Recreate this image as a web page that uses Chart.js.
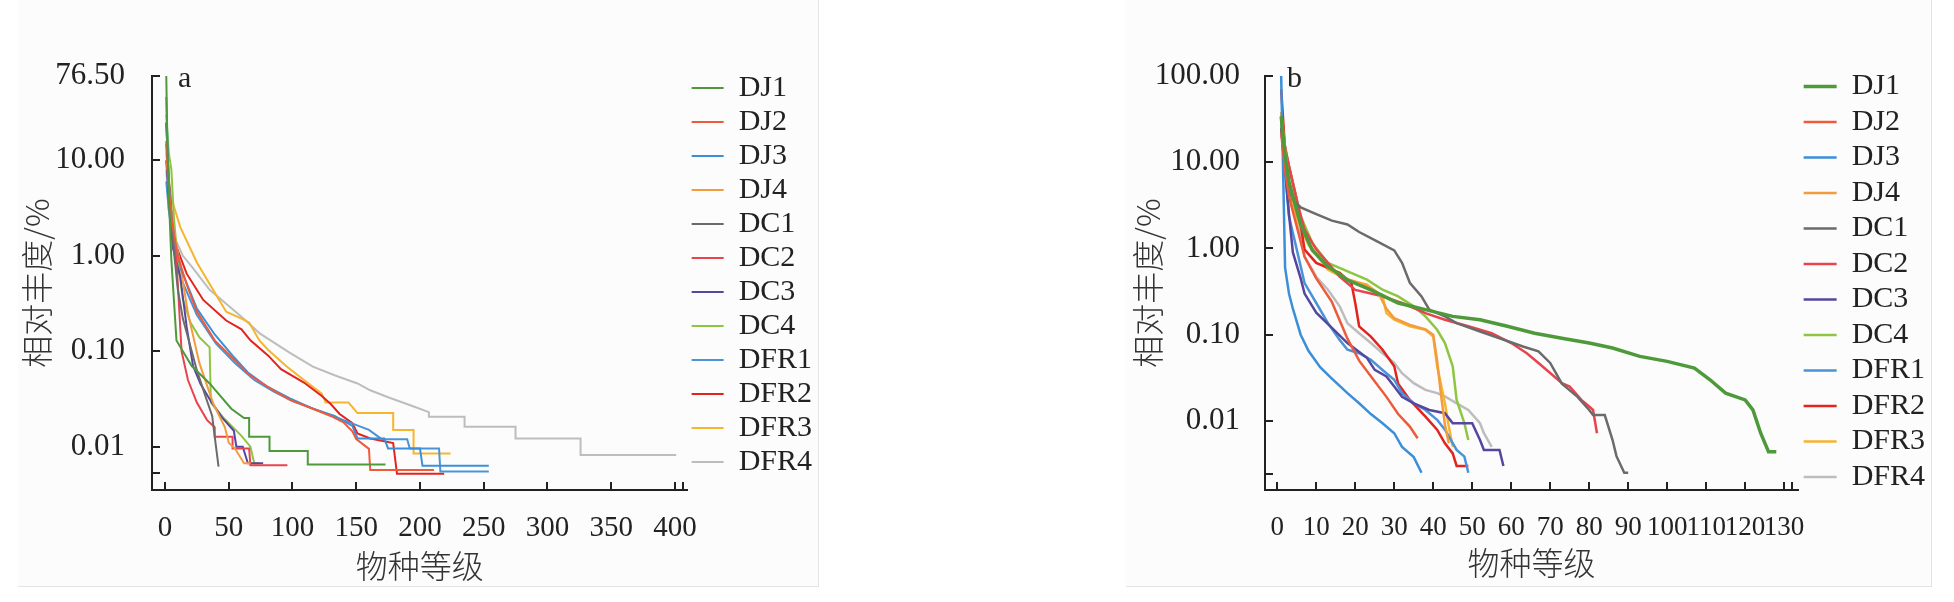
<!DOCTYPE html>
<html lang="zh">
<head>
<meta charset="utf-8">
<title>相对丰度 - 物种等级</title>
<script src="https://cdn.jsdelivr.net/npm/chart.js@4.4.1/dist/chart.umd.min.js"></script>
<style>
  html, body { margin: 0; padding: 0; background: #ffffff; }
  #page { position: relative; width: 1954px; height: 602px; overflow: hidden; }
  .frame { position: absolute; top: 0; height: 586px; background: #fcfcfc; border-right: 1px solid #e4e4e4; border-bottom: 1px solid #e4e4e4; }
  #frameA { left: 18px; width: 800px; }
  #frameB { left: 1126px; width: 805px; }
  .box { position: absolute; top: 0; }
  #boxA { left: 0; width: 822px; height: 602px; }
  #boxB { left: 1100px; width: 835px; height: 602px; }
</style>
</head>
<body>
<div id="page">
  <div class="frame" id="frameA"></div>
  <div class="frame" id="frameB"></div>
  <div class="box" id="boxA"><canvas id="chartA" width="822" height="602"></canvas></div>
  <div class="box" id="boxB"><canvas id="chartB" width="835" height="602"></canvas></div>
</div>
<script>
// sample plots and their colours
const seriesNames = ['DJ1', 'DJ2', 'DJ3', 'DJ4', 'DC1', 'DC2', 'DC3', 'DC4', 'DFR1', 'DFR2', 'DFR3', 'DFR4'];
const seriesColors = ['#4e9a3b', '#ee5b3b', '#3b8fd9', '#f39c3f', '#6b6b6b', '#e8434f', '#55479f', '#8ec641', '#4a93d6', '#e2231e', '#f6b52f', '#bdbdbd'];

// panel a : [species rank, relative abundance %]
const a_DJ1 = [[1,76.5],[2,12],[3,4.2],[5,0.9],[9,0.13],[14,0.1],[21,0.07],[35,0.046],[52,0.025],[62,0.02],[66,0.02],[66,0.0127],[82,0.0127],[82,0.009],[112,0.009],[112,0.0065],[173,0.0065]];
const a_DJ2 = [[1,16],[3,5],[6,2],[10,1],[17,0.5],[25,0.26],[39,0.13],[53,0.085],[65,0.058],[81,0.042],[98,0.031],[116,0.025],[130,0.021],[140,0.018],[147,0.0145],[150,0.012],[160,0.0095],[161,0.0057],[211,0.0057]];
const a_DJ3 = [[1,46],[2,12],[4,3.5],[8,1.3],[13,0.7],[25,0.28],[39,0.15],[53,0.09],[65,0.06],[81,0.042],[98,0.032],[116,0.025],[133,0.021],[147,0.0165],[151,0.0122],[172,0.0122],[175,0.0096],[200,0.0096],[202,0.0063],[254,0.0063]];
const a_DJ4 = [[1,12],[4,3.5],[8,1.5],[12,0.8],[18,0.25],[27,0.075],[38,0.028],[47,0.016],[50,0.011],[55,0.0095],[62,0.0067],[67,0.0067]];
const a_DC1 = [[1,25],[3,6],[6,1.5],[10,0.45],[14,0.22],[18,0.14],[25,0.063],[32,0.033],[37,0.021],[40,0.01],[42,0.0062]];
const a_DC2 = [[1,15],[3,5],[6,2],[9,0.9],[11,0.3],[13,0.1],[18,0.05],[25,0.029],[33,0.019],[39,0.016],[39,0.0127],[53,0.0127],[53,0.0096],[66,0.0096],[67,0.0064],[96,0.0064]];
const a_DC3 = [[1,10],[3,4],[6,1.24],[12,0.6],[17,0.18],[22,0.07],[28,0.045],[36,0.03],[45,0.02],[54,0.0147],[56,0.01],[61,0.01],[65,0.0067],[77,0.0067]];
const a_DC4 = [[1,30],[3,12],[5,8],[7,2.5],[10,0.9],[14,0.35],[20,0.2],[27,0.14],[35,0.11],[36,0.029],[46,0.02],[60,0.013],[67,0.01],[70,0.0067],[74,0.0067]];
const a_DFR1 = [[1,6],[3,3],[6,1.5],[12,0.6],[25,0.24],[40,0.12],[55,0.075],[70,0.05],[85,0.038],[100,0.03],[120,0.024],[140,0.019],[160,0.015],[170,0.012],[190,0.012],[192,0.0096],[215,0.0096],[216,0.0055],[254,0.0055]];
const a_DFR2 = [[1,24.5],[3,6],[6,2.2],[9,1.24],[17,0.65],[30,0.345],[48,0.21],[60,0.17],[67,0.13],[81,0.09],[91,0.065],[109,0.047],[123,0.034],[130,0.028],[137,0.022],[147,0.0176],[151,0.0138],[161,0.0122],[179,0.0109],[182,0.0052],[219,0.0052]];
const a_DFR3 = [[1,10],[5,4],[12,2],[25,0.85],[48,0.26],[60,0.22],[66,0.2],[74,0.13],[81,0.103],[95,0.07],[109,0.05],[123,0.036],[126,0.029],[144,0.029],[151,0.0225],[179,0.0225],[179,0.015],[195,0.015],[195,0.0085],[224,0.0085]];
const a_DFR4 = [[1,8],[3,3],[8,1.5],[14,1],[21,0.77],[35,0.44],[60,0.23],[74,0.155],[98,0.096],[116,0.069],[133,0.056],[151,0.046],[161,0.039],[175,0.033],[193,0.027],[207,0.023],[207,0.0206],[235,0.0206],[235,0.0162],[275,0.0162],[275,0.0122],[326,0.0122],[326,0.0082],[401,0.0082]];

// panel b : [species rank, relative abundance %]
const b_DJ1 = [[1,34],[2,12],[3,6],[4,4],[6,1.9],[9,0.95],[13,0.62],[18,0.43],[24,0.33],[31,0.233],[38,0.195],[45,0.163],[52,0.149],[59,0.125],[66,0.104],[73,0.091],[80,0.08],[86,0.07],[93,0.056],[100,0.049],[107,0.041],[111,0.03],[115,0.021],[120,0.0175],[122,0.0134],[124,0.0072],[126,0.0044],[128,0.0044]];
const b_DJ2 = [[1,22],[2,8],[3,4],[5,1.8],[7,0.8],[10,0.45],[14,0.24],[18,0.09],[21,0.05],[24,0.033],[28,0.019],[31,0.012],[34,0.0086],[36,0.0063]];
const b_DJ3 = [[1,100],[2,0.6],[3,0.3],[4,0.2],[6,0.1],[8,0.065],[11,0.042],[14,0.031],[18,0.021],[21,0.016],[24,0.012],[27,0.0094],[30,0.0072],[32,0.005],[35,0.0038],[37,0.0025]];
const b_DJ4 = [[1,38],[2,14],[3,6],[5,2.4],[8,1.15],[13,0.6],[18,0.44],[23,0.37],[26,0.3],[28,0.2],[30,0.155],[34,0.13],[38,0.115],[40,0.1],[41,0.05],[42,0.02],[43,0.009],[44,0.0055]];
const b_DC1 = [[1,25],[2,8],[3,5],[4,3.6],[6,3],[10,2.5],[14,2.1],[18,1.9],[21,1.55],[25,1.25],[30,0.95],[32,0.68],[34,0.4],[37,0.278],[39,0.195],[43,0.163],[46,0.136],[52,0.109],[57,0.091],[63,0.073],[67,0.064],[70,0.047],[73,0.027],[77,0.019],[80,0.0134],[81,0.0117],[84,0.0117],[86,0.006],[87,0.0039],[89,0.0025],[90,0.0025]];
const b_DC2 = [[1,35],[2,15],[3,9],[5,3.6],[7,1.65],[10,0.97],[13,0.68],[16,0.47],[20,0.33],[24,0.3],[27,0.278],[32,0.233],[38,0.178],[43,0.149],[49,0.125],[55,0.104],[60,0.08],[64,0.061],[67,0.047],[70,0.036],[73,0.0274],[75,0.025],[78,0.0175],[80,0.0147],[81,0.0134],[82,0.0072]];
const b_DC3 = [[1,25],[2,8],[3,2.5],[4,0.9],[6,0.45],[7,0.3],[10,0.18],[14,0.12],[18,0.08],[23,0.054],[25,0.039],[28,0.0327],[30,0.025],[32,0.019],[35,0.016],[39,0.0134],[43,0.0123],[45,0.0094],[50,0.0094],[52,0.006],[53,0.0046],[57,0.0046],[58,0.003]];
const b_DC4 = [[1,30],[2,15],[3,9],[6,2.36],[9,1.16],[13,0.68],[17,0.567],[23,0.434],[27,0.332],[31,0.278],[35,0.213],[38,0.163],[41,0.114],[43,0.08],[45,0.043],[46,0.0175],[48,0.0094],[49,0.006]];
const b_DFR1 = [[1,30],[2,8],[3,2.36],[5,0.97],[7,0.397],[10,0.233],[13,0.136],[16,0.087],[18,0.067],[21,0.061],[24,0.051],[27,0.039],[30,0.03],[32,0.021],[35,0.016],[38,0.0134],[41,0.0103],[43,0.0079],[46,0.0046],[48,0.00385],[49,0.0025]];
const b_DFR2 = [[1,70],[2,14],[5,3.7],[7,0.97],[10,0.68],[16,0.52],[19,0.397],[20,0.233],[21,0.125],[24,0.095],[27,0.067],[30,0.043],[31,0.027],[34,0.0175],[38,0.0112],[41,0.0079],[43,0.0055],[45,0.0042],[46,0.003],[49,0.003]];
const b_DFR3 = [[1,33],[2,12],[3,5],[5,2.2],[8,1.1],[13,0.567],[18,0.434],[23,0.38],[27,0.278],[28,0.178],[30,0.149],[34,0.125],[38,0.114],[40,0.095],[41,0.043],[43,0.016],[44,0.0086],[45,0.005]];
const b_DFR4 = [[1,28],[2,10],[3,5],[5,2.36],[7,0.81],[10,0.47],[13,0.332],[16,0.213],[18,0.136],[21,0.104],[24,0.08],[27,0.061],[30,0.047],[32,0.0358],[35,0.0274],[38,0.0229],[41,0.021],[43,0.0192],[46,0.016],[49,0.0134],[52,0.0094],[53,0.0072],[55,0.005]];

// axis ticks
const xTicksA = [0, 50, 100, 150, 200, 250, 300, 350, 400, 406];
const xLabelsA = ['0', '50', '100', '150', '200', '250', '300', '350', '400', ''];
const yTicksA = [0.0053, 0.01, 0.1, 1, 10, 76.5];
const yLabelsA = ['', '0.01', '0.10', '1.00', '10.00', '76.50'];
const xTicksB = [0, 10, 20, 30, 40, 50, 60, 70, 80, 90, 100, 110, 120, 130, 132];
const xLabelsB = ['0', '10', '20', '30', '40', '50', '60', '70', '80', '90', '100', '110', '120', '130', ''];
const yTicksB = [0.0024, 0.01, 0.1, 1, 10, 100];
const yLabelsB = ['', '0.01', '0.10', '1.00', '10.00', '100.00'];

const seriesA = [a_DJ1, a_DJ2, a_DJ3, a_DJ4, a_DC1, a_DC2, a_DC3, a_DC4, a_DFR1, a_DFR2, a_DFR3, a_DFR4];
const seriesB = [b_DJ1, b_DJ2, b_DJ3, b_DJ4, b_DC1, b_DC2, b_DC3, b_DC4, b_DFR1, b_DFR2, b_DFR3, b_DFR4];

const serifFont = '"Liberation Serif", "Times New Roman", serif';
const cjkFont = '"Noto Sans CJK SC", "Noto Sans", sans-serif';

// ticks pointing into the plot area
const innerTicks = {
    id: 'innerTicks',
    afterDraw: function (chart) {
        const ctx = chart.ctx;
        const area = chart.chartArea;
        const sx = chart.scales.x, sy = chart.scales.y;
        ctx.save();
        ctx.strokeStyle = '#222';
        ctx.lineWidth = 2;
        sx.ticks.forEach(function (t) {
            const px = Math.round(sx.getPixelForValue(t.value));
            ctx.beginPath();
            ctx.moveTo(px, area.bottom);
            ctx.lineTo(px, area.bottom - 8);
            ctx.stroke();
        });
        sy.ticks.forEach(function (t) {
            const py = Math.round(sy.getPixelForValue(t.value));
            ctx.beginPath();
            ctx.moveTo(area.left, py);
            ctx.lineTo(area.left + 8, py);
            ctx.stroke();
        });
        ctx.restore();
    }
};

// panel letter (a / b) in the upper left of the plot
const panelTag = {
    id: 'panelTag',
    afterDraw: function (chart, args, opts) {
        const ctx = chart.ctx;
        ctx.save();
        ctx.fillStyle = '#222';
        ctx.font = '30px ' + serifFont;
        ctx.textBaseline = 'alphabetic';
        ctx.fillText(opts.text, chart.chartArea.left + opts.dx, chart.chartArea.top + 11);
        ctx.restore();
    }
};

// move the legend column up a little
const legendShift = {
    id: 'legendShift',
    afterLayout: function (chart, args, opts) {
        if (chart.legend) {
            chart.legend.top += opts.dy;
            chart.legend.bottom += opts.dy;
        }
    }
};

function makeChart(canvasId, p) {
    const datasets = p.series.map(function (pairs, i) {
        return {
            label: seriesNames[i],
            data: pairs.map(function (d) { return {x: d[0], y: d[1]}; }),
            borderColor: seriesColors[i],
            backgroundColor: seriesColors[i],
            borderWidth: p.lineWidth(i),
            pointRadius: 0,
            pointHoverRadius: 0,
            tension: 0,
            fill: false
        };
    });

    return new Chart(document.getElementById(canvasId), {
        type: 'line',
        data: {datasets: datasets},
        plugins: [innerTicks, panelTag, legendShift],
        options: {
            responsive: false,
            animation: false,
            devicePixelRatio: 1,
            layout: {padding: {top: 76, right: 0, bottom: 0, left: 0}},
            plugins: {
                tooltip: {enabled: false},
                panelTag: {text: p.tag, dx: p.tagDx},
                legendShift: {dy: p.legendDy},
                legend: {
                    position: 'right',
                    align: 'start',
                    labels: {
                        usePointStyle: true,
                        pointStyle: 'line',
                        pointStyleWidth: p.legendLine,
                        padding: p.legendPad,
                        color: '#222',
                        font: {family: serifFont, size: 30}
                    }
                }
            },
            scales: {
                x: {
                    type: 'linear',
                    position: 'bottom',
                    min: p.xMin,
                    max: p.xMax,
                    afterBuildTicks: function (s) { s.ticks = p.xTicks.map(function (v) { return {value: v}; }); },
                    afterFit: function (s) { s.height = 112; },
                    grid: {display: false},
                    border: {display: true, color: '#222', width: 2},
                    ticks: {
                        autoSkip: false,
                        maxRotation: 0,
                        minRotation: 0,
                        padding: p.xTickPad,
                        color: '#222',
                        font: {family: serifFont, size: p.xTickSize},
                        callback: function (v, i) { return p.xLabels[i]; }
                    },
                    title: {
                        display: true,
                        text: '物种等级',
                        color: '#333',
                        font: {family: cjkFont, size: 32, weight: '300'},
                        padding: {top: 0, bottom: p.xTitlePad}
                    }
                },
                y: {
                    type: 'logarithmic',
                    min: p.yMin,
                    max: p.yMax,
                    afterBuildTicks: function (s) { s.ticks = p.yTicks.map(function (v) { return {value: v}; }); },
                    afterFit: function (s) { s.width = p.yWidth; },
                    grid: {display: false},
                    border: {display: true, color: '#222', width: 2},
                    ticks: {
                        autoSkip: false,
                        padding: p.yTickPad,
                        color: '#222',
                        font: {family: serifFont, size: 31},
                        callback: function (v, i) { return p.yLabels[i]; }
                    },
                    title: {
                        display: true,
                        text: '相对丰度/%',
                        color: '#333',
                        font: {family: cjkFont, size: 32, weight: '300'},
                        padding: {top: p.yTitlePad, bottom: 0}
                    }
                }
            }
        }
    });
}

makeChart('chartA', {
    series: seriesA,
    lineWidth: function () { return 2; },
    tag: 'a', tagDx: 26,
    legendDy: -7, legendLine: 32, legendPad: 4,
    xMin: -10.2, xMax: 410, xTicks: xTicksA, xLabels: xLabelsA, xTickSize: 29, xTickPad: 13, xTitlePad: 17,
    yMin: 0.00352, yMax: 76.5, yTicks: yTicksA, yLabels: yLabelsA, yWidth: 152, yTickPad: 19, yTitlePad: 18
});

makeChart('chartB', {
    series: seriesB,
    lineWidth: function (i) { return i === 0 ? 3.5 : 2.5; },
    tag: 'b', tagDx: 22,
    legendDy: -10, legendLine: 33, legendPad: 5.5,
    xMin: -3.15, xMax: 133.6, xTicks: xTicksB, xLabels: xLabelsB, xTickSize: 27, xTickPad: 14, xTitlePad: 20,
    yMin: 0.00158, yMax: 100, yTicks: yTicksB, yLabels: yLabelsB, yWidth: 165, yTickPad: 17, yTitlePad: 29
});
</script>
</body>
</html>
